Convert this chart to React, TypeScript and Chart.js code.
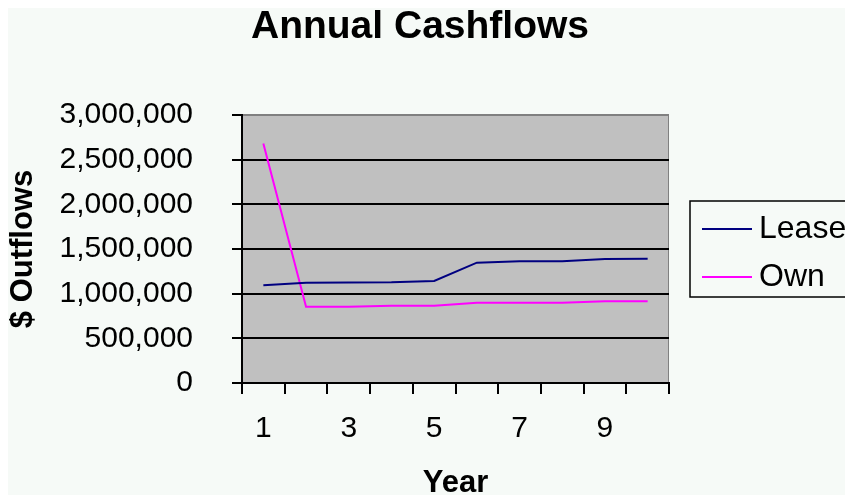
import { useEffect, useRef } from 'react';
import { Chart, registerables } from 'chart.js';

Chart.register(...registerables);

const chartTitle = 'Annual Cashflows';
const xAxisTitle = 'Year';
const yAxisTitle = '$ Outflows';
const years = ['1', '2', '3', '4', '5', '6', '7', '8', '9', '10'];
const leaseValues = [1095000, 1123000, 1125000, 1128000, 1142000, 1347000, 1362000, 1362000, 1388000, 1390000];
const ownValues = [2680000, 854000, 854000, 865000, 865000, 899000, 899000, 899000, 914000, 914000];
const seriesNames = ['Lease', 'Own'];
const seriesColors = ['#000080', '#FF00FF'];
const yMin = 0;
const yMax = 3000000;
const yStep = 500000;

const FONT = '"Liberation Sans", Arial, sans-serif';
const BG = '#F6FAF7';

const decorPlugin = {
  id: 'decor',
  beforeDraw(chart: any) {
    const { ctx, chartArea } = chart;
    ctx.save();
    ctx.fillStyle = BG;
    ctx.fillRect(0, 0, chart.width, chart.height);
    ctx.fillStyle = '#C0C0C0';
    ctx.fillRect(chartArea.left, chartArea.top, chartArea.right - chartArea.left, chartArea.bottom - chartArea.top);
    ctx.strokeStyle = '#808080';
    ctx.lineWidth = 1;
    ctx.strokeRect(chartArea.left + 0.5, chartArea.top + 0.5, chartArea.right - chartArea.left - 1, chartArea.bottom - chartArea.top - 1);
    ctx.restore();
  },
  afterDraw(chart: any) {
    const { ctx } = chart;
    ctx.save();
    // title
    ctx.fillStyle = '#000';
    ctx.font = `bold 39px ${FONT}`;
    ctx.textAlign = 'center';
    ctx.textBaseline = 'middle';
    ctx.fillText(chartTitle, 412, 19);
    // legend box
    const bx = 682, by = 193, bw = 170, bh = 96;
    ctx.strokeStyle = '#000';
    ctx.lineWidth = 1.5;
    ctx.strokeRect(bx, by, bw, bh);
    const rows = [221, 269];
    chart.data.datasets.forEach((ds: any, i: number) => {
      const y = rows[i];
      ctx.strokeStyle = ds.borderColor;
      ctx.lineWidth = 2;
      ctx.beginPath();
      ctx.moveTo(694, y);
      ctx.lineTo(744, y);
      ctx.stroke();
      ctx.fillStyle = '#000';
      ctx.font = `32px ${FONT}`;
      ctx.textAlign = 'left';
      ctx.textBaseline = 'middle';
      ctx.fillText(ds.label, 751, y);
    });
    ctx.restore();
  },
};

export default function App() {
  const ref = useRef<HTMLCanvasElement | null>(null);
  useEffect(() => {
    if (!ref.current) return;
    const chart = new Chart(ref.current, {
      type: 'line',
      data: {
        labels: years,
        datasets: [
          {
            label: seriesNames[0],
            data: leaseValues,
            borderColor: seriesColors[0],
            backgroundColor: seriesColors[0],
            borderWidth: 2,
            pointRadius: 0,
            tension: 0,
          },
          {
            label: seriesNames[1],
            data: ownValues,
            borderColor: seriesColors[1],
            backgroundColor: seriesColors[1],
            borderWidth: 2,
            pointRadius: 0,
            tension: 0,
          },
        ],
      },
      options: {
        responsive: false,
        animation: false,
        layout: { padding: { top: 107, right: 184, left: 0, bottom: 0 } },
        plugins: {
          legend: { display: false },
          title: { display: false },
          tooltip: { enabled: false },
        },
        scales: {
          x: {
            type: 'category',
            offset: true,
            grid: {
              offset: true,
              drawOnChartArea: false,
              drawTicks: true,
              tickLength: 11,
              color: '#000',
              lineWidth: 2,
            },
            border: { color: '#000', width: 2 },
            ticks: {
              autoSkip: false,
              maxRotation: 0,
              padding: 17,
              color: '#000',
              font: { family: FONT, size: 30 },
              callback: (_v: any, i: number) => (i % 2 === 0 ? years[i] : ''),
            },
            title: {
              display: true,
              text: xAxisTitle,
              color: '#000',
              font: { family: FONT, size: 31, weight: 'bold', lineHeight: 1 },
              padding: { top: 0, bottom: -4 },
            },
            afterFit: (s: any) => {
              s.height = 112;
            },
          },
          y: {
            min: yMin,
            max: yMax,
            grid: {
              color: (c: any) => (c.tick && c.tick.value === yMax ? '#808080' : '#000'),
              tickColor: '#000',
              lineWidth: 2,
              tickLength: 10,
            },
            border: { color: '#000', width: 2 },
            ticks: {
              stepSize: yStep,
              padding: 39,
              color: '#000',
              font: { family: FONT, size: 30 },
              callback: (v: any) => Number(v).toLocaleString('en-US'),
            },
            title: {
              display: true,
              text: yAxisTitle,
              color: '#000',
              font: { family: FONT, size: 31, weight: 'bold', lineHeight: 1 },
              padding: { top: 0, bottom: 0 },
            },
            afterFit: (s: any) => {
              s.width = 234;
            },
          },
        },
      },
      plugins: [decorPlugin],
    } as any);
    return () => chart.destroy();
  }, []);
  return (
    <div style={{ width: 845, height: 487 }}>
      <canvas ref={ref} width={845} height={487} style={{ display: 'block' }} />
    </div>
  );
}
